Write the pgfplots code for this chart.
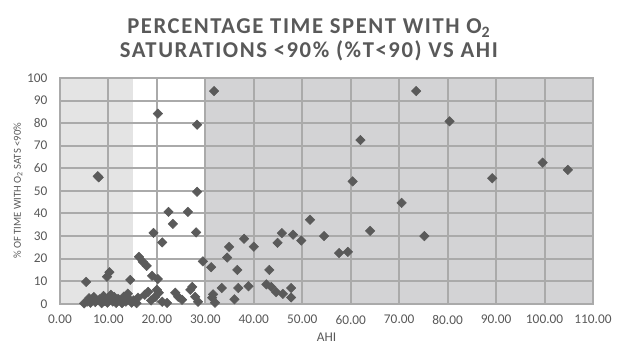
\documentclass[border=0pt]{standalone}
\usepackage{pgfplots}
\pgfplotsset{compat=1.18}
\usepackage{fontspec}
\setmainfont{Carlito}
\newfontfamily\titlefont[LetterSpace=7]{Carlito}
\usetikzlibrary{calc}
\definecolor{txt}{HTML}{595959}
\definecolor{mk}{HTML}{5A5A5A}
\definecolor{zoneA}{HTML}{E4E4E4}
\definecolor{zoneC}{HTML}{D3D3D5}
\definecolor{gridc}{HTML}{AAAAAA}
\begin{document}
\begin{tikzpicture}
\begin{axis}[
  scale only axis, width=400pt, height=169.5pt,
  xmin=0, xmax=110, ymin=0, ymax=100,
  xtick={0,10,...,110}, ytick={0,10,...,100},
  xticklabel style={yshift=-5pt, /pgf/number format/.cd, fixed, fixed zerofill, precision=2},
  /pgf/number format/assume math mode=true,
  ticklabel style={font=\fontsize{10}{11}\selectfont, text=txt},
  yticklabel style={xshift=-6pt},
  major tick length=0pt,
  xmajorgrids=true, ymajorgrids=true,
  major grid style={draw=gridc, line width=1.5pt, solid},
  axis line style={draw=gridc, line width=1.5pt},
  set layers,
  clip=true,
]
\begin{pgfonlayer}{axis background}
\fill[zoneA] (axis cs:0,0) rectangle (axis cs:15,100);
\fill[zoneC] (axis cs:30,0) rectangle (axis cs:110,100);
\end{pgfonlayer}
\addplot[only marks, mark=square*, mark size=2.5pt, mark options={rotate=45, fill=mk, draw=mk}] coordinates {
(5.0,0.2)(5.4,9.7)(5.6,1.0)(6.0,2.5)(6.3,0.5)(6.7,1.8)(7.0,3.0)(7.3,0.8)(7.8,56.5)(8.0,56.0)
(8.2,2.0)(8.6,0.3)(9.0,3.5)(9.3,1.2)(9.7,12.0)(10.2,14.0)(9.8,0.5)(10.2,2.5)(10.5,4.0)(10.9,1.0)
(11.2,3.0)(11.6,0.4)(12.0,2.2)(12.4,1.5)(12.8,0.3)(13.2,3.2)(13.6,1.0)(14.0,4.5)(14.3,2.0)(14.5,10.6)
(14.8,0.5)(15.2,1.5)
(15.8,0.3)(16.1,2.7)(16.3,20.8)(17.1,18.6)(17.9,16.8)(17.5,4.0)(18.2,5.3)(18.8,1.5)(19.0,12.4)(19.3,31.4)
(19.6,3.0)(20.0,6.2)(20.2,84.2)(20.2,11.0)(20.4,4.9)(21.1,27.2)(21.1,0.9)(22.1,0.4)(22.4,40.7)(23.3,35.4)
(23.8,4.9)(24.4,3.1)(25.2,1.8)(26.4,40.7)(26.9,6.2)(27.3,7.5)(27.9,3.1)(28.1,31.6)(28.3,49.6)(28.3,79.3)
(28.5,0.9)(29.5,18.8)
(31.2,16.2)(31.4,2.7)(31.6,4.2)(31.8,94.2)(32.0,0.5)(33.4,7.0)(34.5,20.5)(34.9,25.2)(36.0,2.0)(36.6,15.0)
(36.8,7.0)(38.0,28.8)(38.9,7.8)(40.0,25.3)(42.6,8.6)(43.2,15.0)(43.6,7.5)(44.6,5.2)(44.9,27.0)(45.8,31.3)
(46.0,4.4)(47.7,7.0)(47.7,2.8)(48.1,30.6)(49.8,28.0)(51.6,37.2)(54.5,30.0)(57.6,22.5)(59.4,23.0)(60.4,54.2)
(62.0,72.5)(64.0,32.3)(70.5,44.7)(73.5,94.2)(75.2,30.0)(80.4,80.8)(89.2,55.6)(99.6,62.5)(104.8,59.3)
};
\end{axis}
\coordinate (SW) at ($(current axis.south west)+(-45pt,-33pt)$);
\coordinate (NE) at ($(current axis.north east)+(18.75pt,58.5pt)$);
\node[font=\titlefont\bfseries\fontsize{17}{18}\selectfont, text=txt, anchor=base] at ($(SW)+(231.75pt,0)+(0,{261pt-43pt})$) {SATURATIONS <90\% (\%T<90) VS AHI};
\node[font=\titlefont\bfseries\fontsize{17}{18}\selectfont, text=txt, anchor=base] at ($(SW)+(231.75pt,0)+(0,{261pt-25.5pt})$) {PERCENTAGE TIME SPENT WITH O\textsubscript{2}};
\node[font=\fontsize{10}{11}\selectfont, text=txt] at ($(current axis.south)+(0,-25pt)$) {AHI};
\node[font=\fontsize{8}{9}\selectfont, text=txt, rotate=90] at ($(current axis.west)+(-31.5pt,0)$) {\% OF TIME WITH O\textsubscript{2} SATS <90\%};
\pgfresetboundingbox
\path[use as bounding box] (SW) rectangle (NE);
\end{tikzpicture}
\end{document}
